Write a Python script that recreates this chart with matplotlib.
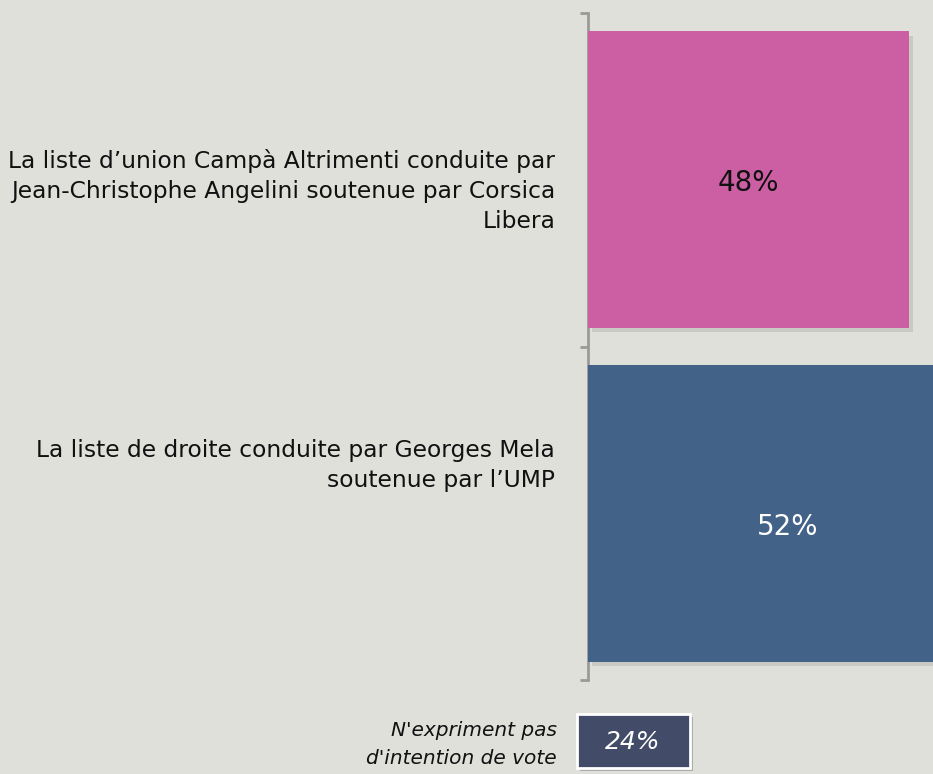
import matplotlib.pyplot as plt
import matplotlib.patheffects as pe
from matplotlib.patches import Rectangle

# Data
labels = [
    "La liste d\u2019union Campà Altrimenti conduite par\nJean-Christophe Angelini soutenue par Corsica\nLibera",
    "La liste de droite conduite par Georges Mela\nsoutenue par l\u2019UMP",
]
values = [48, 52]
value_labels = ["48%", "52%"]
bar_colors = ["#cc5fa4", "#436288"]
no_vote_label = "N'expriment pas\nd'intention de vote"
no_vote_value = "24%"

bg = "#e0e0da"
fig = plt.figure(figsize=(9.33, 7.74), dpi=100, facecolor=bg)
ax = fig.add_axes([588 / 933, 1 - 680 / 774, 1 - 588 / 933, (680 - 13) / 774])
ax.set_facecolor(bg)

shadow = [pe.SimplePatchShadow(offset=(3, -3), shadow_rgbFace="#9a9a94", alpha=0.3), pe.Normal()]
bars = ax.barh(range(len(values)), values, height=0.89, color=bar_colors, zorder=3)
for b in bars:
    b.set_path_effects(shadow)

ax.set_xlim(0, 51.6)
ax.set_ylim(1.5, -0.5)
ax.set_xticks([])
ax.set_yticks([-0.5, 0.5, 1.5])
ax.set_yticklabels([])
ax.tick_params(axis="y", length=6, width=2, color="#9a9a9a", direction="out")
for s in ["top", "right", "bottom"]:
    ax.spines[s].set_visible(False)
ax.spines["left"].set_color("#9a9a9a")
ax.spines["left"].set_linewidth(2)

# category labels
label_y = [0.033, 0.856]
for y, lab in zip(label_y, labels):
    ax.text(-0.095, y, lab, transform=ax.get_yaxis_transform(), ha="right", va="center",
            fontsize=16.8, color="#111111", linespacing=1.38)

# value labels
ax.text(24, 0.01, value_labels[0], ha="center", va="center", fontsize=20, color="#111111", zorder=4)
ax.text(29.8, 1.04, value_labels[1], ha="center", va="center", fontsize=20, color="white", zorder=4)

# no-vote box
box = Rectangle((577 / 933, 1 - 768 / 774), 113 / 933, 54 / 774, transform=fig.transFigure,
                facecolor="#424c68", edgecolor="white", linewidth=2)
box.set_path_effects([pe.SimplePatchShadow(offset=(2, -2), alpha=0.25), pe.Normal()])
fig.patches.append(box)
fig.text(633 / 933, 1 - 742 / 774, no_vote_value, ha="center", va="center", fontsize=18,
         style="italic", color="white")
fig.text(557 / 933, 1 - 745 / 774, no_vote_label, ha="right", va="center", fontsize=14.5,
         style="italic", color="#111111", linespacing=1.6)

plt.savefig("out.png", dpi=100, facecolor=bg)
